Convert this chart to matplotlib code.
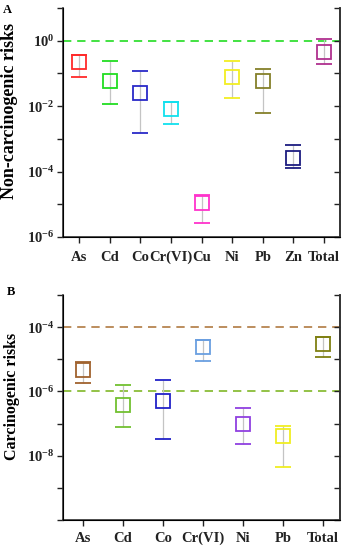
import numpy as np
import matplotlib
matplotlib.use("Agg")
import matplotlib.pyplot as plt
from matplotlib.ticker import FixedLocator, FuncFormatter, NullLocator

plt.rcParams["font.family"] = ["Liberation Serif", "DejaVu Serif"]
plt.rcParams["font.weight"] = "bold"
plt.rcParams["mathtext.fontset"] = "custom"
plt.rcParams["mathtext.rm"] = "Liberation Serif:bold"
plt.rcParams["mathtext.bf"] = "Liberation Serif:bold"
plt.rcParams["mathtext.it"] = "Liberation Serif:bold:italic"

# Panel A: non-carcinogenic risks
elements_a = ["As", "Cd", "Co", "Cr(VI)", "Cu", "Ni", "Pb", "Zn", "Total"]
mean_a = [0.22, 0.059, 0.026, 0.008, 1.1e-5, 0.077, 0.058, 2.6e-4, 0.45]
low_a = [0.080, 0.0116, 0.0015, 0.0028, 2.6e-6, 0.0174, 0.0061, 1.26e-4, 0.19]
high_a = [0.37, 0.243, 0.117, 0.0137, 1.9e-5, 0.243, 0.135, 6.3e-4, 1.12]
colors_a = ["#ff2a2a", "#22dd22", "#2a2ac8", "#11e0ee", "#ff33cc",
            "#f2ee22", "#85802a", "#1c1c80", "#b0308f"]
threshold_a = [1.0]
threshold_colors_a = ["#22dd22"]

# Panel B: carcinogenic risks
elements_b = ["As", "Cd", "Co", "Cr(VI)", "Ni", "Pb", "Total"]
mean_b = [4.8e-6, 3.9e-7, 5.1e-7, 2.4e-5, 1.0e-7, 4.1e-8, 3.0e-5]
low_b = [1.8e-6, 7.8e-8, 3.2e-8, 8.6e-6, 2.3e-8, 4.4e-9, 1.17e-5]
high_b = [8.2e-6, 1.55e-6, 2.2e-6, 4.0e-5, 3.0e-7, 8.7e-8, 5.1e-5]
colors_b = ["#a0622e", "#72c030", "#2222c8", "#6a9fe0", "#9040e0",
            "#f0ee22", "#7f8012"]
threshold_b = [1e-4, 1e-6]
threshold_colors_b = ["#b07a42", "#80b828"]


def draw_panel(ax, names, mean, low, high, colors, hlines, hcolors,
               ylim, labeled, xlim, ylabel, label_pos, label_size, xpad):
    for y, c in zip(hlines, hcolors):
        ax.axhline(y, color=c, lw=1.2, ls=(0, (5, 3.5)), zorder=1)
    for i, (m, lo, hi, c) in enumerate(zip(mean, low, high, colors)):
        eb = ax.errorbar(i, m, yerr=[[m - lo], [hi - m]], fmt="none",
                         ecolor="#c4c4c4", elinewidth=0.9, capsize=5.8,
                         capthick=1.3, zorder=2)
        for cap in eb[1]:
            cap.set_color(c)
            cap.set_markeredgecolor(c)
        ax.plot(i, m, marker="s", ms=10.5, mfc="none", mec=c, mew=1.3, zorder=3)

    ax.set_yscale("log")
    ax.set_ylim(*ylim)
    ax.set_xlim(*xlim)
    decades = np.arange(int(np.log10(ylim[0])), int(np.log10(ylim[1])) + 1)
    ax.yaxis.set_major_locator(FixedLocator(10.0 ** decades))
    ax.yaxis.set_minor_locator(NullLocator())
    ax.yaxis.set_major_formatter(FuncFormatter(
        lambda v, p: r"$10^{%d}$" % round(np.log10(v))
        if round(np.log10(v)) in labeled else ""))
    ax.set_xticks(range(len(names)))
    ax.set_xticklabels(names, fontsize=10.5, fontweight="bold", va="baseline")
    ax.tick_params(axis="y", direction="out", length=4, width=1, pad=2,
                   labelsize=10.5, colors="#222222")
    ax.tick_params(axis="x", direction="out", length=4, width=1, pad=xpad,
                   colors="#222222")
    ax.spines["top"].set_visible(False)
    for s in ["left", "right", "bottom"]:
        ax.spines[s].set_color("#333333")
        ax.spines[s].set_linewidth(1.2)

    tw = ax.twinx()
    tw.set_yscale("log")
    tw.set_ylim(*ylim)
    tw.yaxis.set_major_locator(FixedLocator(10.0 ** decades))
    tw.yaxis.set_minor_locator(NullLocator())
    tw.tick_params(axis="y", direction="in", length=4, width=1,
                   labelright=False, colors="#222222")
    tw.spines["top"].set_visible(False)
    tw.spines["right"].set_color("#333333")
    tw.spines["right"].set_linewidth(1.2)

    fig.text(label_pos[0] / 346, 1 - label_pos[1] / 550, ylabel,
             rotation=90, ha="center", va="center",
             fontsize=label_size, fontweight="bold")


fig = plt.figure(figsize=(3.46, 5.5), dpi=100)
axA = fig.add_axes([63 / 346, 1 - 237 / 550, 277 / 346, 229 / 550])
axB = fig.add_axes([63 / 346, 1 - 520 / 550, 277 / 346, 225 / 550])

draw_panel(axA, elements_a, mean_a, low_a, high_a, colors_a,
           threshold_a, threshold_colors_a, (1e-6, 1e1), [0, -2, -4, -6],
           (-0.52, 8.52), "Non-carcinogenic risks", (9.5, 111), 13, 13)
draw_panel(axB, elements_b, mean_b, low_b, high_b, colors_b,
           threshold_b, threshold_colors_b, (1e-10, 1e-3), [-4, -6, -8],
           (-0.5, 6.43), "Carcinogenic risks", (12.5, 396), 11.5, 11.5)

fig.text(3 / 346, 1 - 13 / 550, "A", fontsize=9, fontweight="bold")
fig.text(7 / 346, 1 - 295 / 550, "B", fontsize=9, fontweight="bold")

fig.savefig("out.png", dpi=100)
